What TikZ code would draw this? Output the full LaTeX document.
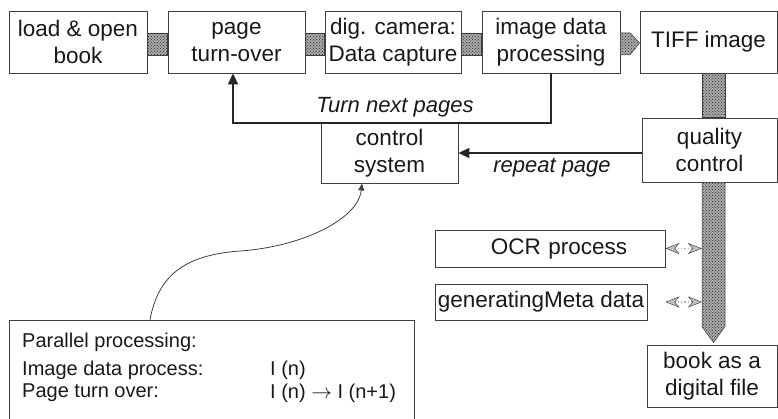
\documentclass[tikz,border=0pt]{standalone}
\usepackage{fontspec}
\setmainfont{Liberation Sans}
\usetikzlibrary{arrows.meta,calc,patterns}

\tikzset{
  stage/.style={draw=black!75, line width=0.9pt, fill=white, align=center,
    inner sep=0pt, font=\fontsize{22.5}{27}\selectfont, text=black!90},
  bar/.style={fill=gray!70, draw=gray!50!black, line width=0.5pt,
    postaction={pattern=crosshatch dots, pattern color=black!80}},
  flow/.style={draw=black!85, line width=2pt, -{Triangle[length=11pt,width=10pt]}},
  dbl/.style={draw=gray!60, line width=1.2pt, dotted,
    {Stealth[length=14pt,width=11pt,fill=gray!50,color=gray!40!black,line width=0.4pt]}-{Stealth[length=14pt,width=11pt,fill=gray!50,color=gray!40!black,line width=0.4pt]}},
  note/.style={font=\fontsize{22}{26}\selectfont\itshape, text=black!90},
  plain/.style={font=\fontsize{20}{24}\selectfont, text=black!90, anchor=west, inner sep=0pt}
}

\begin{document}
\begin{tikzpicture}[x=1pt,y=-1pt]
\useasboundingbox (0,0) rectangle (778,419);

% top row of stages
\node[stage, minimum width=138, minimum height=62] (load) at (78,42) {load \& open\\book};
\node[stage, minimum width=137, minimum height=62] (turn) at (236.5,42) {page\\turn-over};
\node[stage, minimum width=136, minimum height=62] (cam)  at (393,42) {dig. camera:\\Data capture};
\node[stage, minimum width=138, minimum height=62] (proc) at (551,42) {image  data\\processing};
\node[stage, minimum width=137, minimum height=62] (tiff) at (708.5,42) {TIFF image};

% right column
\node[stage, minimum width=135, minimum height=64] (qc)   at (709.5,150) {quality\\control};
\node[stage, minimum width=130, minimum height=62] (book) at (712,376) {book as a\\digital file};

% side processes
\node[stage, minimum width=230, minimum height=37, text width=230, align=center] (ocr) at (550,248.5) {\hspace*{18pt}OCR process};
\node[stage, minimum width=212, minimum height=36] (meta) at (541,302) {generatingMeta data};

% control system
\node[stage, minimum width=137, minimum height=60] (ctrl) at (389.5,153) {control\\system};

% parallel processing panel (open at the lower edge)
\node[minimum width=404, minimum height=100, inner sep=0pt] (par) at (212,371) {};
\draw[draw=black!75, line width=0.9pt] (par.south west) -- (par.north west) -- (par.north east) -- (par.south east);
\node[plain] (pl1) at (22,342) {Parallel processing:};
\node[plain] (pl2) at (22,370) {Image data process:};
\node[plain] (pl3) at (22,393) {Page turn over:};
\node[plain] (pv2) at (270,370) {I (n)};
\node[plain] (pv3) at (270,393) {I (n) $\rightarrow$ I (n+1)};

% connectors along the top row
\path[bar] ([yshift=9]load.east) rectangle ([yshift=-13]turn.west);
\path[bar] ([yshift=9]turn.east) rectangle ([yshift=-13]cam.west);
\path[bar] ([yshift=9]cam.east)  rectangle ([yshift=-13]proc.west);
\path[bar] ([yshift=9]proc.east) -- ++(10,0) -- ([yshift=-1]tiff.west) -- ([yshift=-13]proc.east -| 630,0) -- ([yshift=-13]proc.east) -- cycle;

% vertical spine down the right column
\coordinate (spine) at (713.5,0);
\path[bar] ($(spine |- tiff.south)+(-11.5,0)$) rectangle ($(spine |- qc.north)+(11.5,0)$);
\path[bar] ($(spine |- qc.south)+(-11.5,0)$) -- ($(spine |- book.north)+(-11.5,-18)$)
  -- ($(spine |- book.north)+(0,-2)$) -- ($(spine |- book.north)+(11.5,-18)$)
  -- ($(spine |- qc.south)+(11.5,0)$) -- cycle;

% exchanges with the side processes
\coordinate (ocrin) at ($(spine |- ocr.east)+(-11.5,0)$);
\coordinate (metaout) at ($(meta.east)+(18,0)$);
\coordinate (metain) at ($(spine |- meta.east)+(-11.5,0)$);
\draw[dbl] (ocr.east) -- (ocrin);
\draw[dbl] (metaout) -- (metain);

% feedback loops
\draw[flow] (proc.south) -- (proc.south |- ctrl.north) -| ([xshift=-3.5]turn.south);
\node[note] (tnp) at (395,107) {Turn next pages};
\draw[flow] (ctrl.east -| qc.west) -- (ctrl.east);
\node[note] (rp) at (552,168) {repeat page};

% link from the parallel processing panel
\draw[draw=black!75, line width=0.8pt, -{Triangle[length=7pt,width=6pt]}]
  ([xshift=140]par.north west) .. controls (158,275) and (185,255) .. (240,251)
  .. controls (300,247) and (358,220) .. ([xshift=-27.5]ctrl.south);
\end{tikzpicture}
\end{document}
